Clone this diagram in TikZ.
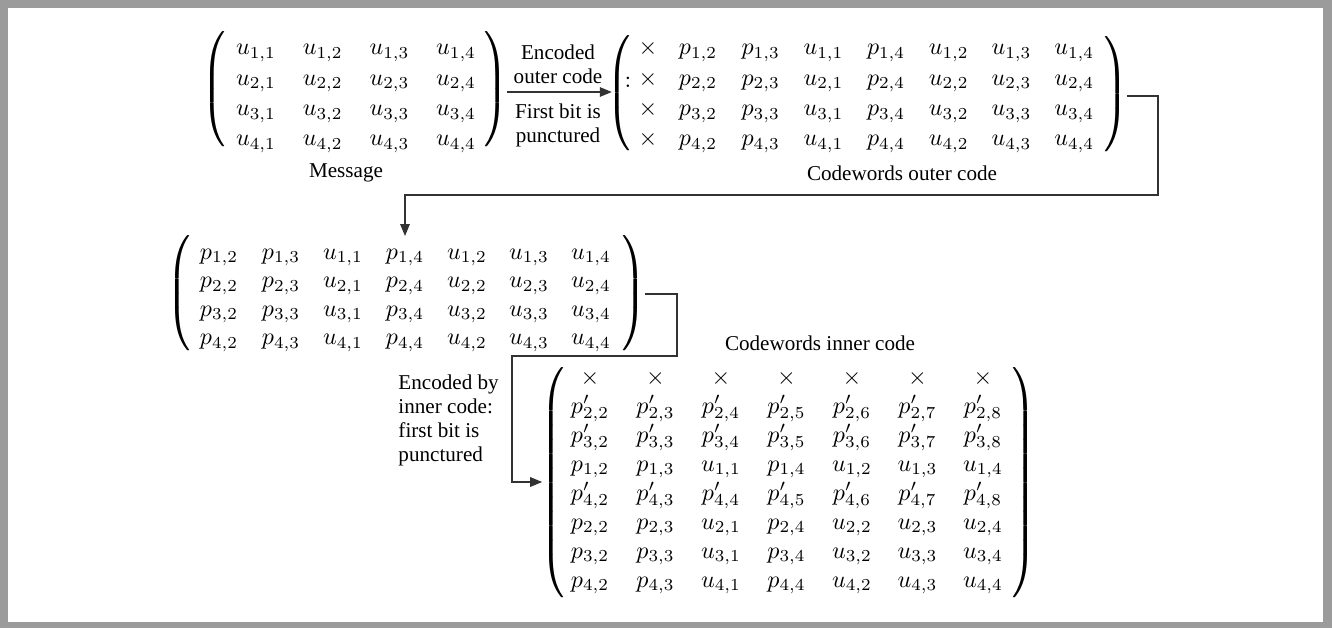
\documentclass[tikz,border=0pt]{standalone}
\usepackage{amsmath}
\usepackage[no-math]{fontspec}
\setmainfont{Liberation Serif}
\usetikzlibrary{arrows.meta}
\definecolor{framegray}{RGB}{155,155,155}
\definecolor{linegray}{RGB}{50,50,50}
% tall round brackets of half height #1 (pt), printed twice to look heavier
\newcommand{\halfrule}[1]{\rule[-#1pt]{0pt}{#1pt}\rule{0pt}{#1pt}}
\newcommand{\lpar}[1]{\rlap{$\left(\halfrule{#1}\right.$}\kern0.35pt$\left(\halfrule{#1}\right.$}
\newcommand{\rpar}[1]{\rlap{$\left.\halfrule{#1}\right)$}\kern0.35pt$\left.\halfrule{#1}\right)$}

\begin{document}
\begin{tikzpicture}[x=0.4167pt, y=-0.4167pt,
  entry/.style={anchor=base, inner sep=0pt},
  paren/.style={inner sep=0pt},
  lbl/.style={font=\fontsize{8.8}{10}\selectfont, align=center, inner sep=0pt},
  link/.style={draw=linegray, line width=0.5pt},
  tip/.style={-{Triangle[length=5pt,width=4pt]}}]
\useasboundingbox (0,0) rectangle (1332,628);
% Frame
\fill[framegray] (0,0) rectangle (1332,628);
\fill[white] (8,8) rectangle (1323,622);

% Message
\node[paren] (msgL) at (216,92) {\lpar{24}};
\foreach \r in {1,...,4}
  \foreach \c in {1,...,4}
    \node[entry] (msg-\r-\c) at ({256+66.7*(\c-1)},{55+30.3*(\r-1)}) {$u_{\r,\c}$};
\node[paren] (msgR) at (494,92) {\rpar{24}};
\node[lbl] (msgname) at (346,173) {Message};

% Codewords of the outer code
\node[paren] (outL) at (621,95) {\lpar{23}};
\node[entry] (colon) at (628,88) {$:$};
\foreach \r in {1,...,4} {
  \node[entry] (out-\r-0) at (648,{55+30.3*(\r-1)}) {$\times$};
  \foreach \e [count=\c] in {p_{\r,2},p_{\r,3},u_{\r,1},p_{\r,4},u_{\r,2},u_{\r,3},u_{\r,4}}
    \node[entry] (out-\r-\c) at ({698+62.7*(\c-1)},{55+30.3*(\r-1)}) {$\e$};
}
\node[paren] (outR) at (1114,96) {\rpar{23}};
\node[lbl] (outname) at (902,173) {Codewords outer code};

% Encoding step
\draw[link, tip, shorten >=-1.5pt] (msgR.east) -- (msgR.east -| outL.west);
\node[lbl] (enc) at (558,64) {Encoded\\outer code};
\node[lbl] (punc) at (558,125) {First bit is\\punctured};

% Punctured codewords
\node[paren] (midL) at (181,294) {\lpar{22}};
\foreach \r in {1,...,4}
  \foreach \e [count=\c] in {p_{\r,2},p_{\r,3},u_{\r,1},p_{\r,4},u_{\r,2},u_{\r,3},u_{\r,4}}
    \node[entry] (mid-\r-\c) at ({219+62*(\c-1)},{259+28.5*(\r-1)}) {$\e$};
\node[paren] (midR) at (632,294) {\rpar{22}};

\coordinate (bend1) at (1158,195);
\coordinate (midin) at (405,236);
\draw[link, tip] (outR.east) -| (bend1) -| (midin);

% Codewords of the inner code
\node[paren] (innL) at (555,486) {\lpar{48}};
\foreach \c in {1,...,7}
  \node[entry] (inn-1-\c) at ({590+65.5*(\c-1)},384) {$\times$};
\foreach \r/\i in {2/2,3/3,5/4}
  \foreach \k [count=\c] in {2,...,8}
    \node[entry] (inn-\r-\c) at ({590+65.5*(\c-1)},{384+29*(\r-1)}) {$p'_{\i,\k}$};
\foreach \r/\i in {4/1,6/2,7/3,8/4}
  \foreach \e [count=\c] in {p_{\i,2},p_{\i,3},u_{\i,1},p_{\i,4},u_{\i,2},u_{\i,3},u_{\i,4}}
    \node[entry] (inn-\r-\c) at ({590+65.5*(\c-1)},{384+29*(\r-1)}) {$\e$};
\node[paren] (innR) at (1022,486) {\rpar{48}};
\node[lbl] (innname) at (820,343) {Codewords inner code};

\coordinate (bend2) at (677,356);
\coordinate (bend3) at (512,482);
\draw[link, tip] (midR.east) -| (bend2) -| (bend3) -- (innL.west |- bend3);
\node[lbl, align=left, anchor=west] (innenc) at (398,420) {Encoded by\\inner code:\\first bit is\\punctured};
\end{tikzpicture}
\end{document}
